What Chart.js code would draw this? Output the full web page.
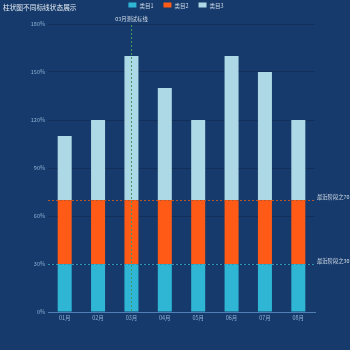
<!DOCTYPE html>
<html>
<head>
<meta charset="utf-8">
<script src="https://cdn.jsdelivr.net/npm/chart.js@4/dist/chart.umd.min.js"></script>
<style>
  html, body { margin: 0; padding: 0; background: #163a6b; }
  canvas { display: block; }
</style>
</head>
<body>
<canvas id="myChart" width="350" height="350"></canvas>
<script>
// data
const months = ['01月', '02月', '03月', '04月', '05月', '06月', '07月', '08月'];
const seriesNames = ['类目1', '类目2', '类目3'];
const series1 = [30, 30, 30, 30, 30, 30, 30, 30];
const series2 = [40, 40, 40, 40, 40, 40, 40, 40];
const series3 = [40, 50, 90, 70, 50, 90, 80, 50];
const seriesColors = ['#2fb6d5', '#ff5a16', '#add8e6'];
const yMax = 180;
const yStep = 30;
const titleText = '柱状图不同标线状态展示';
const markValues = [70, 30];
const markLabels = ['最近阶段之70', '最近阶段之30'];
const markColors = ['#b9532a', '#2a98b8'];
const markMonth = '03月';
const markMonthLabel = '03月测试标线';

const fontFamily = '"Noto Sans CJK SC", "Noto Sans", sans-serif';

// title + legend drawn on one row like the original
const headerPlugin = {
  id: 'header',
  afterDraw(chart) {
    const ctx = chart.ctx;
    ctx.save();
    ctx.fillStyle = '#e6edf5';
    ctx.font = '6.7px ' + fontFamily;
    ctx.textBaseline = 'middle';
    ctx.textAlign = 'left';
    ctx.fillText(titleText, 3, 7);

    ctx.font = '5.5px ' + fontFamily;
    let items = chart.data.datasets.map(d => ({label: d.label, color: d.backgroundColor, w: 8 + 3 + ctx.measureText(d.label).width}));
    let gap = 10;
    let total = items.reduce((a, b) => a + b.w, 0) + gap * (items.length - 1);
    let x = 176 - total / 2;
    items.forEach(it => {
      ctx.fillStyle = it.color;
      ctx.fillRect(x, 2.5, 8, 5);
      ctx.fillStyle = '#c9d6e6';
      ctx.fillText(it.label, x + 11, 5.5);
      x += it.w + gap;
    });
    ctx.restore();
  }
};

// mark lines, placed through the scales
const markLinePlugin = {
  id: 'markLines',
  afterDatasetsDraw(chart) {
    const ctx = chart.ctx;
    const area = chart.chartArea;
    const xs = chart.scales.x;
    const ys = chart.scales.y;
    ctx.save();
    ctx.lineWidth = 1;
    ctx.font = '5.3px ' + fontFamily;
    for (let i = 0; i < markValues.length; i++) {
      let y = Math.round(ys.getPixelForValue(markValues[i])) + 0.5;
      ctx.strokeStyle = markColors[i];
      ctx.setLineDash([2, 2]);
      ctx.beginPath();
      ctx.moveTo(area.left, y);
      ctx.lineTo(area.right, y);
      ctx.stroke();
      ctx.setLineDash([]);
      ctx.fillStyle = '#d3deea';
      ctx.textAlign = 'left';
      ctx.textBaseline = 'middle';
      ctx.fillText(markLabels[i], area.right + 2, y - 3.5);
    }
    let x = Math.round(xs.getPixelForValue(months.indexOf(markMonth))) + 0.5;
    ctx.strokeStyle = '#3f9a62';
    ctx.setLineDash([2, 2]);
    ctx.beginPath();
    ctx.moveTo(x, area.top + 1);
    ctx.lineTo(x, area.bottom);
    ctx.stroke();
    ctx.setLineDash([]);
    ctx.fillStyle = '#d3deea';
    ctx.textAlign = 'center';
    ctx.textBaseline = 'middle';
    ctx.fillText(markMonthLabel, x, area.top - 5);
    ctx.restore();
  }
};

const ctx = document.getElementById('myChart');
const myChart = new Chart(ctx, {
  type: 'bar',
  data: {
    labels: months,
    datasets: [
      {label: seriesNames[0], data: series1, backgroundColor: seriesColors[0]},
      {label: seriesNames[1], data: series2, backgroundColor: seriesColors[1]},
      {label: seriesNames[2], data: series3, backgroundColor: seriesColors[2]}
    ]
  },
  options: {
    responsive: false,
    animation: false,
    devicePixelRatio: 1,
    datasets: {
      bar: {categoryPercentage: 0.84, barPercentage: 0.5, borderWidth: 0}
    },
    layout: {padding: {left: 0, right: 35, top: 24, bottom: 0}},
    plugins: {
      legend: {display: false},
      title: {display: false},
      tooltip: {enabled: false}
    },
    scales: {
      x: {
        stacked: true,
        afterFit: s => { s.height = 38; },
        grid: {display: false, drawTicks: false},
        border: {display: true, color: '#4f7fb5', width: 1},
        ticks: {color: '#8fb0d6', font: {size: 5.5, family: fontFamily}, padding: 3, maxRotation: 0}
      },
      y: {
        stacked: true,
        min: 0,
        max: yMax,
        afterFit: s => { s.width = 48; },
        grid: {color: '#112f5a', drawTicks: false, lineWidth: 1},
        border: {display: false},
        ticks: {
          stepSize: yStep,
          color: '#8fb0d6',
          font: {size: 5.5, family: fontFamily},
          padding: 3,
          callback: v => v + '%'
        }
      }
    }
  },
  plugins: [markLinePlugin, headerPlugin]
});
</script>
</body>
</html>
